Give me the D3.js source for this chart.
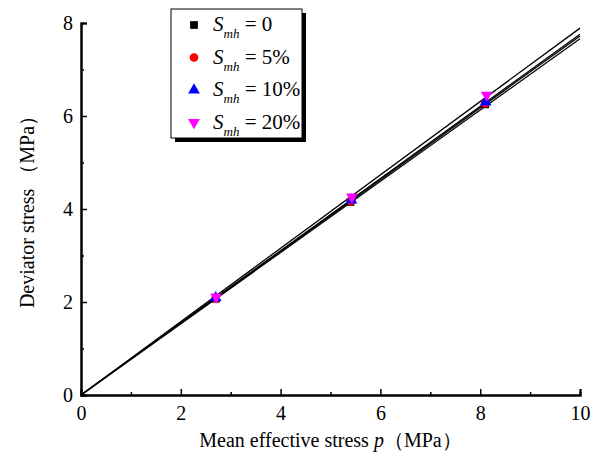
<!DOCTYPE html>
<html>
<head>
<meta charset="utf-8">
<script src="https://d3js.org/d3.v7.min.js"></script>
<style>
  body { margin: 0; background: #fff; }
  text { font-family: "Liberation Serif", serif !important; }
</style>
</head>
<body>
<div id="chart-area"></div>
<script>
// data
var seriesNames = ["0", "5%", "10%", "20%"];
var seriesColors = ["#000000", "#ff0000", "#0000ff", "#ff00ff"];
var seriesShapes = ["square", "circle", "triangle", "triangleDown"];
var pS0  = [2.70, 5.40, 8.10], qS0  = [2.07, 4.15, 6.25];
var pS5  = [2.70, 5.41, 8.10], qS5  = [2.08, 4.17, 6.27];
var pS10 = [2.70, 5.42, 8.11], qS10 = [2.09, 4.19, 6.30];
var pS20 = [2.71, 5.43, 8.13], qS20 = [2.11, 4.26, 6.45];
var fitSlopes = [0.766, 0.772, 0.776, 0.789];
var xTicks = [0, 2, 4, 6, 8, 10];
var yTicks = [0, 2, 4, 6, 8];
var xMinor = [1, 3, 5, 7, 9];
var yMinor = [1, 3, 5, 7];

var series = [
    { p: pS0, q: qS0 },
    { p: pS5, q: qS5 },
    { p: pS10, q: qS10 },
    { p: pS20, q: qS20 }
];

var W = 591, H = 461;
var margin = { left: 81, right: 11, top: 23, bottom: 66 };
var width = W - margin.left - margin.right,
    height = H - margin.top - margin.bottom;

var svg = d3.select("#chart-area")
    .append("svg")
        .attr("width", W)
        .attr("height", H);

var g = svg.append("g")
    .attr("transform", "translate(" + margin.left + "," + margin.top + ")");

var x = d3.scaleLinear().domain([0, 10]).range([0, width]);
var y = d3.scaleLinear().domain([0, 8]).range([height, 0]);

// fitted lines through origin
fitSlopes.forEach(function(k){
    g.append("line")
        .attr("x1", x(0)).attr("y1", y(0))
        .attr("x2", x(10)).attr("y2", y(10 * k))
        .attr("stroke", "#000")
        .attr("stroke-width", 1.3);
});

function symbolFor(shape, size) {
    if (shape === "square") return d3.symbol().type(d3.symbolSquare).size(size)();
    if (shape === "circle") return d3.symbol().type(d3.symbolCircle).size(size)();
    return d3.symbol().type(d3.symbolTriangle).size(size)();
}

series.forEach(function(s, i){
    var pts = s.p.map(function(v, j){ return [v, s.q[j]]; });
    g.selectAll(".pt" + i)
        .data(pts)
        .enter()
        .append("path")
            .attr("class", "pt" + i)
            .attr("d", symbolFor(seriesShapes[i], 60))
            .attr("fill", seriesColors[i])
            .attr("transform", function(d){
                var rot = seriesShapes[i] === "triangleDown" ? " rotate(180)" : "";
                return "translate(" + x(d[0]) + "," + y(d[1]) + ")" + rot;
            });
});

// axes, ticks inward
var xAxis = g.append("g")
    .attr("transform", "translate(0," + height + ")")
    .call(d3.axisBottom(x).tickValues(xTicks).tickSize(-6).tickPadding(11).tickFormat(d3.format("d")));
var xAxisMinor = g.append("g")
    .attr("transform", "translate(0," + height + ")")
    .call(d3.axisBottom(x).tickValues(xMinor).tickSize(-3).tickFormat(""));
var yAxis = g.append("g")
    .call(d3.axisLeft(y).tickValues(yTicks).tickSize(-6).tickPadding(8).tickFormat(d3.format("d")));
var yAxisMinor = g.append("g")
    .call(d3.axisLeft(y).tickValues(yMinor).tickSize(-3).tickFormat(""));

[xAxis, xAxisMinor, yAxis, yAxisMinor].forEach(function(a){
    a.attr("font-family", null);
    a.select(".domain").attr("stroke", "#000").attr("stroke-width", 2);
    a.selectAll(".tick line").attr("stroke", "#000").attr("stroke-width", 1.5);
    a.selectAll(".tick text").attr("font-size", "20px").attr("fill", "#000");
});
xAxis.selectAll(".tick text").attr("dy", "0.71em");

// axis labels
var xt = g.append("text")
    .attr("x", width / 2)
    .attr("y", height + 52)
    .attr("text-anchor", "middle")
    .attr("font-size", "20px");
xt.append("tspan").text("Mean effective stress ");
xt.append("tspan").attr("font-style", "italic").text("p");
xt.append("tspan").text("（MPa）");

g.append("text")
    .attr("transform", "translate(" + (-47) + "," + (height / 2 - 2) + ") rotate(-90)")
    .attr("text-anchor", "middle")
    .attr("font-size", "20px")
    .text("Deviator stress （MPa）");

// legend
var legend = svg.append("g").attr("transform", "translate(171,9)");
var lw = 131, lh = 129;
legend.append("rect")
    .attr("x", 4).attr("y", 4)
    .attr("width", lw).attr("height", lh)
    .attr("fill", "#000");
legend.append("rect")
    .attr("width", lw).attr("height", lh)
    .attr("fill", "#fff")
    .attr("stroke", "#000")
    .attr("stroke-width", 1);

seriesNames.forEach(function(name, i){
    var ry = 16 + i * 32.5;
    legend.append("path")
        .attr("d", symbolFor(seriesShapes[i], 60))
        .attr("fill", seriesColors[i])
        .attr("transform", "translate(23," + ry + ")" + (seriesShapes[i] === "triangleDown" ? " rotate(180)" : ""));
    var t = legend.append("text")
        .attr("x", 42)
        .attr("y", ry + 6)
        .attr("font-size", "21px");
    t.append("tspan").attr("font-style", "italic").text("S");
    t.append("tspan").attr("font-style", "italic").attr("font-size", "13px").attr("dy", 7).text("mh");
    t.append("tspan").attr("dy", -7).text(" = " + name);
});
</script>
</body>
</html>
